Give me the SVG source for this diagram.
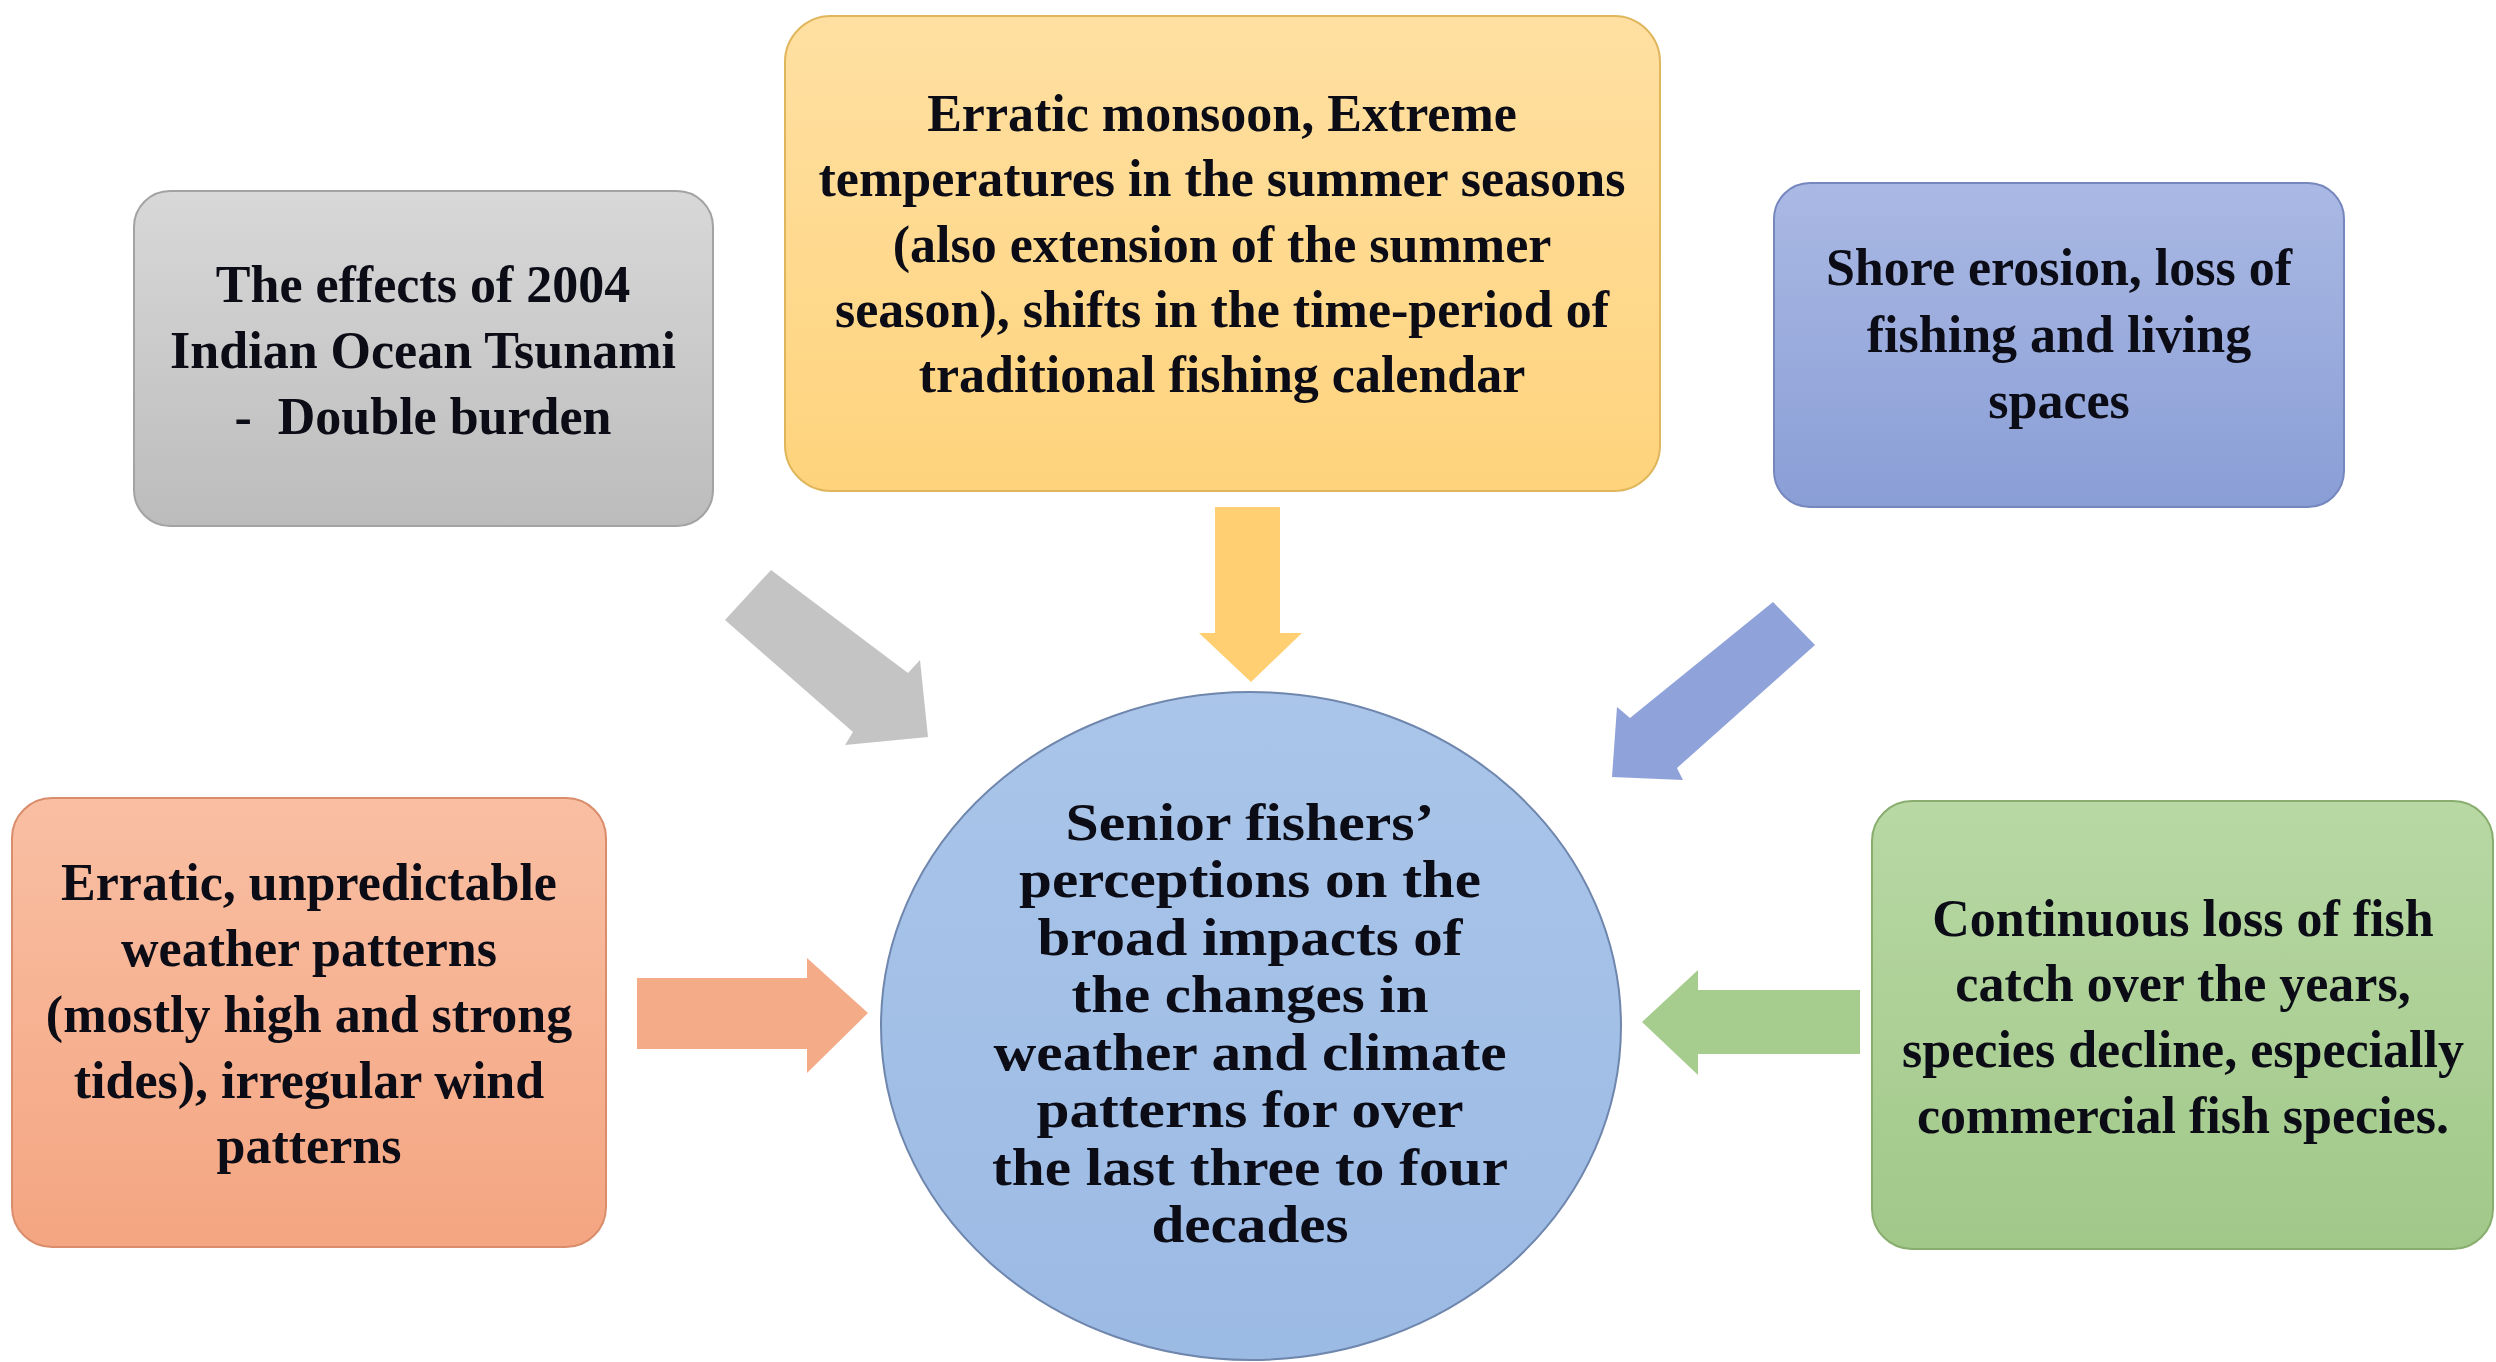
<svg xmlns="http://www.w3.org/2000/svg" width="2496" height="1362" viewBox="0 0 2496 1362">
  <defs>
    <linearGradient id="gGray" x1="0" y1="0" x2="0" y2="1">
      <stop offset="0" stop-color="#d8d8d8"/>
      <stop offset="1" stop-color="#bcbcbc"/>
    </linearGradient>
    <linearGradient id="gYellow" x1="0" y1="0" x2="0" y2="1">
      <stop offset="0" stop-color="#ffe0a2"/>
      <stop offset="1" stop-color="#fed37c"/>
    </linearGradient>
    <linearGradient id="gBlue" x1="0" y1="0" x2="0" y2="1">
      <stop offset="0" stop-color="#aab9e4"/>
      <stop offset="1" stop-color="#8a9ed6"/>
    </linearGradient>
    <linearGradient id="gSalmon" x1="0" y1="0" x2="0" y2="1">
      <stop offset="0" stop-color="#f9bfa3"/>
      <stop offset="1" stop-color="#f4a581"/>
    </linearGradient>
    <linearGradient id="gGreen" x1="0" y1="0" x2="0" y2="1">
      <stop offset="0" stop-color="#b8d8a4"/>
      <stop offset="1" stop-color="#a1c889"/>
    </linearGradient>
    <linearGradient id="gCircle" x1="0" y1="0" x2="0" y2="1">
      <stop offset="0" stop-color="#aac5e9"/>
      <stop offset="1" stop-color="#9bbae4"/>
    </linearGradient>
  </defs>
  <style>
    text { font-family: "Liberation Serif", "Times New Roman", serif; font-weight: bold; fill: #0b0c16; text-anchor: middle; }
    .box { font-size: 52px; }
    .center { font-size: 52px; }
    .node { stroke-width: 2; }
  </style>
  <rect width="2496" height="1362" fill="#ffffff"/>

  <g id="connectors">
    <polygon id="arrow-gray" fill="#c4c4c4" points="771,570 908,673 920,660 928,737 845,745 853,732 725,620"/>
    <polygon id="arrow-yellow" fill="#ffcf72" points="1215,507 1280,507 1280,633 1302,633 1251,682 1199,633 1215,633"/>
    <polygon id="arrow-blue" fill="#8fa2da" points="1773,602 1815,645 1677,768 1683,780 1612,777 1617,707 1630,718"/>
    <polygon id="arrow-salmon" fill="#f4ab88" points="637,978 807,978 807,958 868,1013 807,1073 807,1049 637,1049"/>
    <polygon id="arrow-green" fill="#a6cd8d" points="1860,990 1698,990 1698,970 1642,1022 1698,1075 1698,1054 1860,1054"/>
  </g>

  <g id="node-tsunami">
    <rect class="node" x="134" y="191" width="579" height="335" rx="36" fill="url(#gGray)" stroke="#a3a3a3"/>
    <text class="box" x="423" y="302">The effects of 2004</text>
    <text class="box" x="423" y="368">Indian Ocean Tsunami</text>
    <text class="box" x="423" y="434" xml:space="preserve">-  Double burden</text>
  </g>

  <g id="node-monsoon">
    <rect class="node" x="785" y="16" width="875" height="475" rx="46" fill="url(#gYellow)" stroke="#e0b65c"/>
    <text class="box" x="1222" y="131">Erratic monsoon, Extreme</text>
    <text class="box" x="1222" y="196">temperatures in the summer seasons</text>
    <text class="box" x="1222" y="262">(also extension of the summer</text>
    <text class="box" x="1222" y="327">season), shifts in the time-period of</text>
    <text class="box" x="1222" y="392">traditional fishing calendar</text>
  </g>

  <g id="node-erosion">
    <rect class="node" x="1774" y="183" width="570" height="324" rx="36" fill="url(#gBlue)" stroke="#7587bd"/>
    <text class="box" x="2059" y="285">Shore erosion, loss of</text>
    <text class="box" x="2059" y="352">fishing and living</text>
    <text class="box" x="2059" y="418">spaces</text>
  </g>

  <g id="node-weather">
    <rect class="node" x="12" y="798" width="594" height="449" rx="40" fill="url(#gSalmon)" stroke="#d98d6c"/>
    <text class="box" x="309" y="900">Erratic, unpredictable</text>
    <text class="box" x="309" y="966">weather patterns</text>
    <text class="box" x="309" y="1032">(mostly high and strong</text>
    <text class="box" x="309" y="1098">tides), irregular wind</text>
    <text class="box" x="309" y="1163">patterns</text>
  </g>

  <g id="node-fishcatch">
    <rect class="node" x="1872" y="801" width="621" height="448" rx="40" fill="url(#gGreen)" stroke="#88ad6e"/>
    <text class="box" x="2183" y="936">Continuous loss of fish</text>
    <text class="box" x="2183" y="1001">catch over the years,</text>
    <text class="box" x="2183" y="1067">species decline, especially</text>
    <text class="box" x="2183" y="1133">commercial fish species.</text>
  </g>

  <g id="node-center">
    <ellipse class="node" cx="1251" cy="1026" rx="370" ry="334" fill="url(#gCircle)" stroke="#6f86ad"/>
    <text class="center" x="1250" y="840" textLength="369" lengthAdjust="spacingAndGlyphs">Senior fishers’</text>
    <text class="center" x="1250" y="897" textLength="462" lengthAdjust="spacingAndGlyphs">perceptions on the</text>
    <text class="center" x="1250" y="955" textLength="425" lengthAdjust="spacingAndGlyphs">broad impacts of</text>
    <text class="center" x="1250" y="1012" textLength="357" lengthAdjust="spacingAndGlyphs">the changes in</text>
    <text class="center" x="1250" y="1070" textLength="513" lengthAdjust="spacingAndGlyphs">weather and climate</text>
    <text class="center" x="1250" y="1127" textLength="427" lengthAdjust="spacingAndGlyphs">patterns for over</text>
    <text class="center" x="1250" y="1185" textLength="516" lengthAdjust="spacingAndGlyphs">the last three to four</text>
    <text class="center" x="1250" y="1242" textLength="197" lengthAdjust="spacingAndGlyphs">decades</text>
  </g>
</svg>
